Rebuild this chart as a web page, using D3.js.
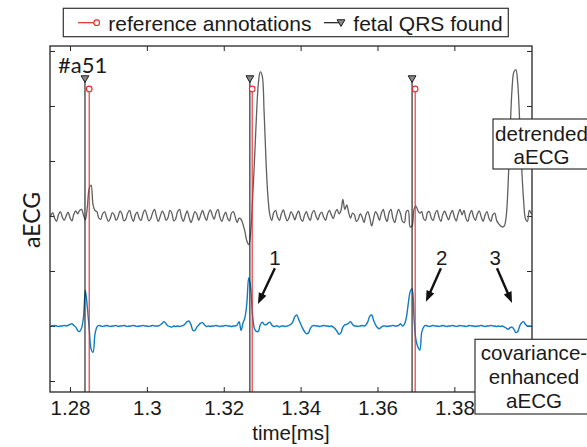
<!DOCTYPE html>
<html>
<head>
<meta charset="utf-8">
<script src="https://cdn.jsdelivr.net/npm/d3@7"></script>
<style>
  body { margin: 0; background: #fff; }
  text { font-family: "Liberation Sans", Arial, sans-serif; fill: #1a1a1a; }
</style>
</head>
<body>
<svg id="chart" width="587" height="447"></svg>
<script>
// sampling grid of both traces (time in ms)
const sampleStart = 1.2750;
const sampleStep = 0.0005;

// detrended aECG (a.u.)
const detrended = [
  0.00, 0.06,-0.04,-0.10, 0.02, 0.08,-0.02,-0.08, 0.00, 0.07,
 -0.03,-0.09, 0.03, 0.09, 0.04, 0.10, 0.12, 0.02,-0.07, 0.15,
  0.50, 0.56, 0.20, 0.10, 0.08,-0.04,-0.06, 0.04, 0.08,-0.02,
 -0.10,-0.04, 0.06, 0.02,-0.08,-0.02, 0.09, 0.04,-0.09,-0.06,
  0.05, 0.10,-0.02,-0.10, 0.02, 0.07,-0.04,-0.08, 0.04, 0.11,
  0.02,-0.09,-0.05, 0.06, 0.12,-0.01,-0.10, 0.00, 0.09, 0.03,
 -0.08,-0.03, 0.10, 0.05,-0.09,-0.05, 0.08, 0.12,-0.02,-0.10,
  0.01, 0.09,-0.03,-0.12,-0.02, 0.08, 0.03,-0.08, 0.02, 0.10,
  0.00,-0.08, 0.04, 0.11, 0.02,-0.06, 0.06, 0.12,-0.02,-0.10,
  0.00, 0.07,-0.04,-0.09, 0.05, 0.08,-0.02,-0.12,-0.04,-0.06,
 -0.15,-0.28,-0.45,-0.52,-0.30, 0.30, 1.00, 1.80, 2.40, 2.62,
  2.55, 1.90, 1.00, 0.35, 0.02,-0.08, 0.06, 0.10,-0.02,-0.08,
  0.04, 0.11, 0.00,-0.09,-0.03, 0.08, 0.02,-0.07, 0.03, 0.09,
 -0.04,-0.10, 0.01, 0.08,-0.02,-0.08, 0.05, 0.10, 0.00,-0.07,
  0.03, 0.07,-0.02,-0.08, 0.04, 0.10, 0.02,-0.05, 0.06, 0.12,
  0.04, 0.10, 0.30, 0.12, 0.20, 0.06,-0.04, 0.05, 0.02,-0.10,
 -0.06, 0.04,-0.02,-0.12, 0.02, 0.08,-0.04,-0.18,-0.04, 0.08,
  0.02,-0.08, 0.05, 0.12,-0.02,-0.10, 0.06, 0.12,-0.04,-0.12,
  0.02, 0.12, 0.04,-0.10,-0.12, 0.08, 0.10,-0.20,-0.18, 0.12,
  0.18, 0.10, 0.05, 0.08,-0.05,-0.08, 0.06, 0.08,-0.04,-0.08,
  0.04, 0.10,-0.02,-0.10, 0.03, 0.09, 0.00,-0.07, 0.04, 0.10,
 -0.02,-0.09, 0.04, 0.12, 0.02, 0.10,-0.04,-0.10, 0.03, 0.10,
 -0.02,-0.08, 0.04, 0.09,-0.02,-0.10, 0.02, 0.08,-0.04,-0.10,
  0.02, 0.05,-0.08,-0.14,-0.18,-0.20,-0.18, 0.00, 0.60, 1.50,
  2.30, 2.62, 2.66, 2.40, 1.70, 0.90, 0.30,-0.05,-0.10, 0.10,
  0.04
];

// covariance-enhanced aECG (a.u.)
const enhanced = [
  0.01, 0.00, 0.01, 0.00,-0.01, 0.00, 0.00, 0.01, 0.00, 0.01,
  0.03, 0.04, 0.01,-0.02,-0.08,-0.10,-0.04, 0.15, 0.65, 0.35,
 -0.05,-0.42,-0.48,-0.15,-0.02, 0.01, 0.00,-0.01, 0.00, 0.01,
  0.00,-0.01, 0.00, 0.00, 0.01,-0.01, 0.00, 0.00, 0.01, 0.00,
 -0.01, 0.00, 0.00, 0.01, 0.00,-0.01, 0.00, 0.00, 0.01, 0.00,
  0.00,-0.01, 0.00, 0.01, 0.00, 0.00, 0.00, 0.02, 0.05, 0.08,
  0.04, 0.00,-0.01,-0.02, 0.00,-0.01, 0.00,-0.01, 0.00, 0.01,
  0.04, 0.08, 0.09, 0.02,-0.08,-0.08,-0.02, 0.02, 0.05, 0.06,
  0.02,-0.01, 0.00,-0.01, 0.00, 0.00, 0.01, 0.00,-0.01, 0.00,
  0.00, 0.01, 0.00, 0.00,-0.01, 0.00, 0.00, 0.02, 0.08,-0.08,
  0.05, 0.15, 0.40, 0.88, 0.70, 0.20,-0.05,-0.10,-0.10, 0.02,
  0.07, 0.03, 0.02, 0.05, 0.07, 0.02,-0.01, 0.00, 0.00,-0.02,
  0.00, 0.00,-0.01, 0.00, 0.01, 0.03, 0.08, 0.17, 0.20, 0.12,
  0.04,-0.04,-0.10,-0.14,-0.13,-0.05, 0.00, 0.01, 0.00, 0.00,
 -0.01, 0.00, 0.01, 0.00, 0.00,-0.01, 0.00,-0.02,-0.05,-0.10,
 -0.15,-0.12,-0.02, 0.02, 0.03, 0.05, 0.08, 0.03, 0.00, 0.00,
 -0.01, 0.00, 0.01, 0.00, 0.02, 0.08, 0.18, 0.20, 0.10, 0.02,
 -0.03,-0.05,-0.02, 0.00, 0.00,-0.01, 0.00, 0.00, 0.01, 0.00,
  0.00, 0.01, 0.04, 0.00, 0.03, 0.15, 0.40, 0.62, 0.68, 0.15,
 -0.25,-0.38,-0.44,-0.12,-0.02, 0.01, 0.00,-0.01, 0.00, 0.01,
  0.00, 0.00,-0.01, 0.00, 0.01, 0.00,-0.01, 0.00, 0.00, 0.01,
  0.00,-0.01, 0.00, 0.01, 0.00, 0.00,-0.01, 0.00, 0.01, 0.00,
  0.00,-0.01, 0.00, 0.00, 0.01, 0.00,-0.01, 0.00, 0.00, 0.01,
  0.00, 0.00,-0.01, 0.00,-0.01, 0.00,-0.02,-0.04,-0.06,-0.03,
 -0.02,-0.06,-0.12,-0.10, 0.00, 0.06, 0.08, 0.03, 0.00, 0.00,
  0.00
];

// annotation times (ms)
const refTimes = [1.2850, 1.3274, 1.3698];
const foundTimes = [1.2839, 1.3268, 1.3690];

const xTicks = [1.28, 1.30, 1.32, 1.34, 1.36, 1.38];
const xTickLabels = ["1.28", "1.3", "1.32", "1.34", "1.36", "1.38"];
const yTicks = [0, 1, 2, 3, 4, 5, 6];

const legendLabels = ["reference annotations", "fetal QRS found"];
const traceLabels = [["detrended", "aECG"], ["covariance-", "enhanced", "aECG"]];

// numbered arrows: [time, level]
const arrowLabels = ["1", "2", "3"];
const arrowLabelAt = [[1.3333, 2.25], [1.3767, 2.25], [1.3906, 2.25]];
const arrowFrom = [[1.3333, 2.05], [1.3765, 2.05], [1.3911, 2.05]];
const arrowTo = [[1.3289, 1.40], [1.3726, 1.44], [1.3950, 1.42]];

// stacking of the two traces and heights of the stems
const detrendedOffset = 3;
const enhancedOffset = 1;
const foundLevel = 5.49;
const refLevel = 5.31;

const svg = d3.select("#chart");
const plotLeft = 50, plotRight = 532, plotTop = 46, plotBottom = 392;

const x = d3.scaleLinear().domain([1.2748, 1.4002]).range([plotLeft, plotRight]);
const y = d3.scaleLinear().domain([-0.2, 6.09]).range([plotBottom, plotTop]);

svg.append("defs").append("clipPath").attr("id", "plotClip")
  .append("rect").attr("x", plotLeft).attr("y", plotTop)
  .attr("width", plotRight - plotLeft).attr("height", plotBottom - plotTop);

// axes (ticks pointing inward, no y labels)
const tickColor = "#262626";
function styleAxis(g) {
  g.select(".domain").remove();
  g.selectAll(".tick line").attr("stroke", tickColor).attr("stroke-width", 1);
}
svg.append("g").attr("transform", `translate(0,${plotBottom})`)
  .call(d3.axisBottom(x).tickValues(xTicks).tickSize(-5).tickPadding(8.5)
    .tickFormat((d, i) => xTickLabels[i]))
  .call(styleAxis)
  .selectAll("text").attr("font-size", 20.5).attr("fill", "#1a1a1a")
  .style("font-family", "'Liberation Sans', Arial, sans-serif");
svg.append("g").attr("transform", `translate(0,${plotTop})`)
  .call(d3.axisTop(x).tickValues(xTicks).tickSize(-5).tickFormat(""))
  .call(styleAxis);
svg.append("g").attr("transform", `translate(${plotLeft},0)`)
  .call(d3.axisLeft(y).tickValues(yTicks).tickSize(-5).tickFormat(""))
  .call(styleAxis);
svg.append("g").attr("transform", `translate(${plotRight},0)`)
  .call(d3.axisRight(y).tickValues(yTicks).tickSize(-5).tickFormat(""))
  .call(styleAxis);

// traces
const plot = svg.append("g").attr("clip-path", "url(#plotClip)");
const line = offset => d3.line()
  .x((d, i) => x(sampleStart + i * sampleStep))
  .y(d => y(d + offset))
  .curve(d3.curveCatmullRom.alpha(0.5));

plot.append("path").datum(detrended)
  .attr("fill", "none").attr("stroke", "#5f5f5f").attr("stroke-width", 1.3)
  .attr("d", line(detrendedOffset));
plot.append("path").datum(enhanced)
  .attr("fill", "none").attr("stroke", "#0e7cc2").attr("stroke-width", 1.4)
  .attr("d", line(enhancedOffset));

// stems
plot.selectAll(".found").data(foundTimes).join("line")
  .attr("x1", d => x(d)).attr("x2", d => x(d))
  .attr("y1", y(foundLevel)).attr("y2", plotBottom)
  .attr("stroke", "#1a1a1a").attr("stroke-width", 1.1);
plot.selectAll(".ref").data(refTimes).join("line")
  .attr("x1", d => x(d)).attr("x2", d => x(d))
  .attr("y1", y(refLevel)).attr("y2", plotBottom)
  .attr("stroke", "#e8262a").attr("stroke-width", 1.1);

const tri = d3.symbol().type(d3.symbolTriangle).size(26);
svg.selectAll(".tri").data(foundTimes).join("path")
  .attr("d", tri)
  .attr("transform", d => `translate(${x(d)},${y(foundLevel) - 1}) rotate(180)`)
  .attr("fill", "#8a8a8a").attr("stroke", "#1a1a1a").attr("stroke-width", 1);
svg.selectAll(".circ").data(refTimes).join("circle")
  .attr("cx", d => x(d)).attr("cy", y(refLevel)).attr("r", 2.8)
  .attr("fill", "#fff").attr("stroke", "#e8262a").attr("stroke-width", 1.1);

// frame
svg.append("rect").attr("x", plotLeft).attr("y", plotTop)
  .attr("width", plotRight - plotLeft).attr("height", plotBottom - plotTop)
  .attr("fill", "none").attr("stroke", "#262626").attr("stroke-width", 1.3);

// sample id
svg.append("text").attr("x", 58).attr("y", 72.5)
  .style("font-family", "Lato, 'Noto Sans', sans-serif").attr("font-size", 22)
  .text("#a51");

// axis titles
svg.append("text").attr("x", x(1.3375)).attr("y", 440)
  .attr("text-anchor", "middle").attr("font-size", 20.5).text("time[ms]");
svg.append("text")
  .attr("transform", "translate(40,220) rotate(-90)")
  .attr("text-anchor", "middle")
  .style("font-family", "Lato, 'Noto Sans', sans-serif").attr("font-size", 23)
  .text("aECG");

// numbered arrows
const arrows = svg.append("g");
arrowLabels.forEach((lab, i) => {
  const x0 = x(arrowFrom[i][0]), y0 = y(arrowFrom[i][1]);
  const x1 = x(arrowTo[i][0]), y1 = y(arrowTo[i][1]);
  const len = Math.hypot(x1 - x0, y1 - y0);
  const ux = (x1 - x0) / len, uy = (y1 - y0) / len;
  const headL = 11, headW = 4.2;
  const bx = x1 - ux * headL, by = y1 - uy * headL;
  arrows.append("line")
    .attr("x1", x0).attr("y1", y0).attr("x2", bx + ux * 1).attr("y2", by + uy * 1)
    .attr("stroke", "#111").attr("stroke-width", 2.4);
  arrows.append("path")
    .attr("d", `M${x1},${y1}L${bx - uy * headW},${by + ux * headW}L${bx + uy * headW},${by - ux * headW}Z`)
    .attr("fill", "#111");
  arrows.append("text")
    .attr("x", x(arrowLabelAt[i][0])).attr("y", y(arrowLabelAt[i][1]) + 7.5)
    .attr("text-anchor", "middle").attr("font-size", 20.5).text(lab);
});

// trace labels in boxes
function textBox(bx, by, bw, bh, cx, baselines, lines) {
  const g = svg.append("g");
  g.append("rect").attr("x", bx).attr("y", by).attr("width", bw).attr("height", bh)
    .attr("fill", "#fff").attr("stroke", "#333").attr("stroke-width", 1.2);
  lines.forEach((t, i) => {
    g.append("text").attr("x", cx).attr("y", baselines[i])
      .attr("text-anchor", "middle").attr("font-size", 20.6).text(t);
  });
}
textBox(493, 119, 100, 50, 541.5, [140.7, 164], traceLabels[0]);
textBox(475, 339.3, 120, 74.7, 534, [360.3, 384, 407.5], traceLabels[1]);

// legend
const lg = svg.append("g");
lg.append("rect").attr("x", 63.3).attr("y", 8.3).attr("width", 445).attr("height", 28.4)
  .attr("fill", "#fff").attr("stroke", "#333").attr("stroke-width", 1.2);
lg.append("line").attr("x1", 78).attr("x2", 96.7).attr("y1", 22.7).attr("y2", 22.7)
  .attr("stroke", "#e8262a").attr("stroke-width", 1.2);
lg.append("circle").attr("cx", 96.7).attr("cy", 22.7).attr("r", 2.8)
  .attr("fill", "#fff").attr("stroke", "#e8262a").attr("stroke-width", 1.1);
lg.append("text").attr("x", 108.3).attr("y", 30.5).attr("font-size", 21).text(legendLabels[0]);
lg.append("line").attr("x1", 324).attr("x2", 341).attr("y1", 22.7).attr("y2", 22.7)
  .attr("stroke", "#1a1a1a").attr("stroke-width", 1.2);
lg.append("path").attr("d", tri)
  .attr("transform", "translate(341,22) rotate(180)")
  .attr("fill", "#8a8a8a").attr("stroke", "#1a1a1a").attr("stroke-width", 1);
lg.append("text").attr("x", 353.3).attr("y", 30.5).attr("font-size", 21).text(legendLabels[1]);
</script>
</body>
</html>
